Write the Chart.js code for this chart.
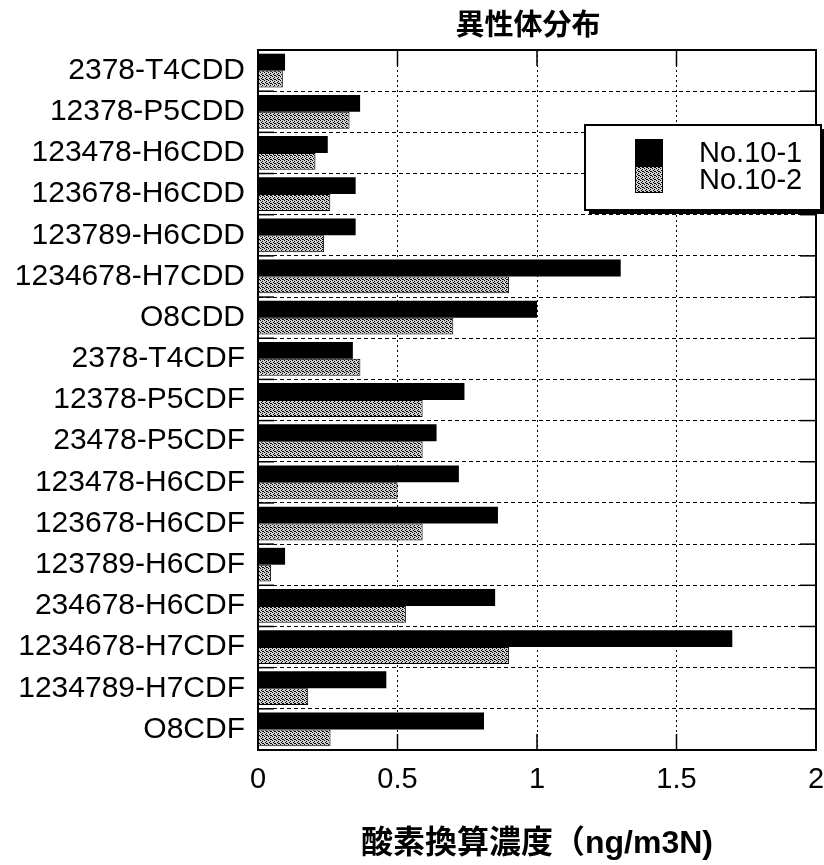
<!DOCTYPE html>
<html>
<head>
<meta charset="utf-8">
<script src="https://cdn.jsdelivr.net/npm/chart.js@4"></script>
<style>
  html, body { margin: 0; padding: 0; background: #ffffff; }
  #wrap { width: 824px; height: 865px; }
</style>
</head>
<body>
<div id="wrap"><canvas id="c" width="824" height="865"></canvas></div>
<script>
const categories = ['2378-T4CDD','12378-P5CDD','123478-H6CDD','123678-H6CDD','123789-H6CDD','1234678-H7CDD','O8CDD','2378-T4CDF','12378-P5CDF','23478-P5CDF','123478-H6CDF','123678-H6CDF','123789-H6CDF','234678-H6CDF','1234678-H7CDF','1234789-H7CDF','O8CDF'];
const seriesNames = ['No.10-1', 'No.10-2'];
const no10_1 = [0.097, 0.366, 0.25, 0.35, 0.35, 1.30, 1.00, 0.34, 0.74, 0.64, 0.72, 0.86, 0.097, 0.85, 1.70, 0.46, 0.81];
const no10_2 = [0.089, 0.328, 0.206, 0.259, 0.237, 0.90, 0.70, 0.367, 0.59, 0.59, 0.50, 0.59, 0.047, 0.53, 0.90, 0.18, 0.26];
const xTicks = [0, 0.5, 1, 1.5, 2];
const chartTitle = '異性体分布';
const xTitle = '酸素換算濃度（ng/m3N)';

const LATIN = "'Liberation Sans', Arial, Helvetica, sans-serif";
const CJK = "'Liberation Sans', 'Noto Sans CJK JP', sans-serif";

// stipple pattern for the grey series
function makePattern() {
  const p = document.createElement('canvas');
  p.width = 4; p.height = 4;
  const g = p.getContext('2d');
  g.fillStyle = '#cfcfcf';
  g.fillRect(0, 0, 4, 4);
  g.fillStyle = '#000000';
  [[0,0],[2,1],[1,2],[3,3],[2,3]].forEach(([x,y]) => g.fillRect(x, y, 1, 1));
  return g.createPattern(p, 'repeat');
}
const greyFill = makePattern();

const decor = {
  id: 'decor',
  afterDraw(chart) {
    const ctx = chart.ctx;
    const a = chart.chartArea;
    const xs = chart.scales.x, ys = chart.scales.y;
    ctx.save();
    // solid inner tick marks
    ctx.strokeStyle = '#000'; ctx.lineWidth = 1.5; ctx.setLineDash([]);
    const n = categories.length;
    for (let i = 0; i <= n; i++) {
      const y = i === 0 ? a.top : (i === n ? a.bottom : (ys.getPixelForValue(i - 1) + ys.getPixelForValue(i)) / 2);
      ctx.beginPath(); ctx.moveTo(a.left, y); ctx.lineTo(a.left + 16, y); ctx.stroke();
      ctx.beginPath(); ctx.moveTo(a.right - 16, y); ctx.lineTo(a.right, y); ctx.stroke();
    }
    xTicks.forEach(v => {
      const x = xs.getPixelForValue(v);
      ctx.beginPath(); ctx.moveTo(x, a.top); ctx.lineTo(x, a.top + 16); ctx.stroke();
      ctx.beginPath(); ctx.moveTo(x, a.bottom - 16); ctx.lineTo(x, a.bottom); ctx.stroke();
    });
    // frame
    ctx.lineWidth = 2;
    ctx.strokeRect(a.left, a.top, a.right - a.left, a.bottom - a.top);

    // title
    ctx.fillStyle = '#000';
    ctx.font = "bold 29px 'Noto Sans CJK JP', sans-serif";
    ctx.textAlign = 'center'; ctx.textBaseline = 'middle';
    ctx.fillText(chartTitle, (a.left + a.right) / 2 - 9, 24);

    // legend
    const lx = a.right - 231, ly = a.top + 75, lw = 236, lh = 85;
    ctx.fillStyle = '#000';
    ctx.fillRect(lx + 4, ly + 4, lw, lh);
    ctx.fillStyle = '#fff';
    ctx.fillRect(lx, ly, lw, lh);
    ctx.strokeStyle = '#000'; ctx.lineWidth = 2;
    ctx.strokeRect(lx, ly, lw, lh);
    const ds = chart.data.datasets;
    const sw = { x: lx + 50, w: 28, h: 27 };
    ds.forEach((d, i) => {
      const sy = ly + 14 + i * 27;
      ctx.fillStyle = d.backgroundColor;
      ctx.fillRect(sw.x, sy, sw.w, sw.h);
      ctx.lineWidth = 1; ctx.strokeStyle = '#000';
      ctx.strokeRect(sw.x + 0.5, sy + 0.5, sw.w - 1, sw.h - 1);
      ctx.fillStyle = '#000';
      ctx.font = '29px ' + LATIN;
      ctx.textAlign = 'left'; ctx.textBaseline = 'middle';
      ctx.fillText(d.label, lx + 114, sy + sw.h / 2 + 1);
    });
    ctx.restore();
  }
};

new Chart(document.getElementById('c'), {
  type: 'bar',
  data: {
    labels: categories,
    datasets: [
      { label: seriesNames[0], data: no10_1, backgroundColor: '#000000', borderColor: '#000000', borderWidth: 0 },
      { label: seriesNames[1], data: no10_2, backgroundColor: greyFill, borderColor: '#000000', borderWidth: 1 }
    ]
  },
  options: {
    indexAxis: 'y',
    responsive: false,
    animation: false,
    devicePixelRatio: 1,
    layout: { padding: { top: 50, right: 8, left: 0, bottom: 0 } },
    datasets: { bar: { categoryPercentage: 0.82, barPercentage: 1.0 } },
    plugins: { legend: { display: false }, title: { display: false }, tooltip: { enabled: false } },
    scales: {
      x: {
        type: 'linear', min: 0, max: 2,
        afterBuildTicks: s => { s.ticks = xTicks.map(v => ({ value: v })); },
        afterFit: s => { s.height = 115; s.paddingLeft = 0; s.paddingRight = 0; },
        ticks: { color: '#000', padding: 13, font: { family: LATIN, size: 29 }, callback: v => String(v) },
        grid: { color: '#000', lineWidth: 1, drawTicks: false },
        border: { display: true, color: '#000', width: 2, dash: [2, 3] },
        title: { display: true, text: xTitle, color: '#000', padding: { top: 0, bottom: 2 }, font: { family: CJK, size: 32, weight: 'bold' } }
      },
      y: {
        afterFit: s => { s.width = 258; s.paddingTop = 0; s.paddingBottom = 0; },
        ticks: { color: '#000', padding: 13, font: { family: LATIN, size: 30 } },
        grid: { color: '#000', lineWidth: 1, drawTicks: false, offset: true },
        border: { display: true, color: '#000', width: 2, dash: [4, 3] }
      }
    }
  },
  plugins: [decor]
});
</script>
</body>
</html>
